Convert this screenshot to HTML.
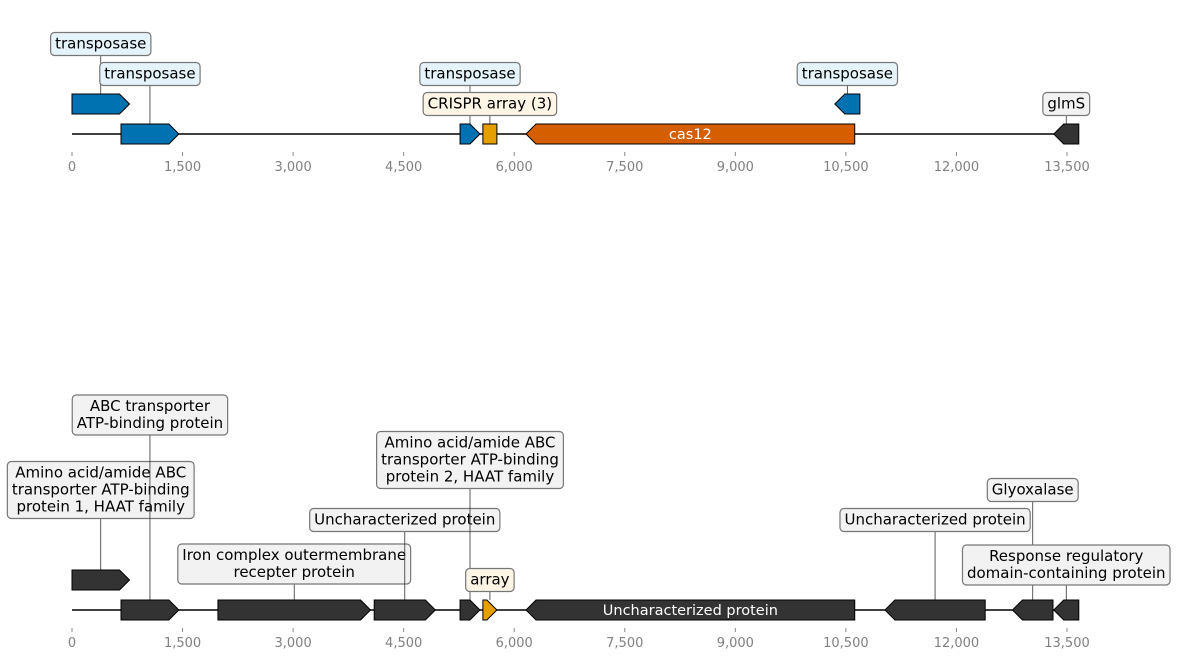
<!DOCTYPE html>
<html><head><meta charset="utf-8"><style>
html,body{margin:0;padding:0;background:#fff;}
svg{display:block;font-family:"DejaVu Sans","Liberation Sans",sans-serif;}
</style></head><body>
<svg id="chart" width="1178" height="659" viewBox="0 0 1178 659"></svg>
<script>
// ---- data ----
const tickValues = [0,1500,3000,4500,6000,7500,9000,10500,12000,13500];
const tickLabels = ["0","1,500","3,000","4,500","6,000","7,500","9,000","10,500","12,000","13,500"];
const seqLength = 13660;

const topStarts  = [0, 665, 5265, 5575, 6160, 10350, 13320];
const topEnds    = [780, 1450, 5535, 5765, 10620, 10690, 13660];
const topStrands = [1, 1, 1, 0, -1, -1, -1];
const topLevels  = [1, 0, 0, 0, 0, 1, 0];
const topColors  = ["#0072b2","#0072b2","#0072b2","#e69f00","#d55e00","#0072b2","#333333"];
const topLabels  = ["transposase","transposase","transposase","CRISPR array (3)","","transposase","glmS"];
const topInside  = ["","","","","cas12","",""];
const topBoxFill = ["#e5f4fb","#e5f4fb","#e5f4fb","#fdf5e5","","#e5f4fb","#f2f2f2"];

const botStarts  = [0, 665, 1980, 4100, 5265, 5575, 6160, 11030, 12760, 13320];
const botEnds    = [780, 1450, 4050, 4930, 5535, 5765, 10620, 12390, 13310, 13660];
const botStrands = [1, 1, 1, 1, 1, 1, -1, -1, -1, -1];
const botLevels  = [1, 0, 0, 0, 0, 0, 0, 0, 0, 0];
const botColors  = ["#333333","#333333","#333333","#333333","#333333","#e69f00","#333333","#333333","#333333","#333333"];
const botLabels  = ["Amino acid/amide ABC\ntransporter ATP-binding\nprotein 1, HAAT family","ABC transporter\nATP-binding protein","Iron complex outermembrane\nrecepter protein","Uncharacterized protein ","Amino acid/amide ABC\ntransporter ATP-binding\nprotein 2, HAAT family","array","","Uncharacterized protein ","Glyoxalase ","Response regulatory\ndomain-containing protein"];
const botInside  = ["","","","","","","Uncharacterized protein","","",""];
const botBoxFill = ["#f2f2f2","#f2f2f2","#f2f2f2","#f2f2f2","#f2f2f2","#fdf5e5","","#f2f2f2","#f2f2f2","#f2f2f2"];

// ---- layout ----
const topLabelY = [44,74,74,104,0,74,104];
const botLabelY = [490,415,564,520,460,580,0,520,490,565];

const NS="http://www.w3.org/2000/svg";
const svg=document.getElementById('chart');
const x0=72, x1=1067;
const xs=v=>x0+(v/13500)*(x1-x0);
function mk(tag,attrs,parent){const e=document.createElementNS(NS,tag);for(const k in attrs)e.setAttribute(k,attrs[k]);(parent||svg).appendChild(e);return e;}

function panel(baseY,starts,ends,strands,levels,colors,labels,inside,fills,labelY,pname){
  const g=mk('g',{});
  
  
  const ax=mk('line',{x1:xs(0),x2:xs(seqLength),y1:baseY,y2:baseY,stroke:'#000','stroke-width':1.5},g);
  
  
  tickValues.forEach((t,i)=>{
    const tk=mk('line',{x1:xs(t),x2:xs(t),y1:baseY+18,y2:baseY+22,stroke:'#888','stroke-width':1},g);
    
    
    const tl=mk('text',{x:xs(t),y:baseY+37,'text-anchor':'middle','font-size':13,fill:'#808080'},g);
    tl.textContent=tickLabels[i];
    
    
  });
  const labelLayer=mk('g',{},g);
  starts.forEach((s,i)=>{
    const a=xs(s), b=xs(ends[i]), cy=baseY-30*levels[i], h=10;
    const hl=Math.min(10,b-a);
    let d;
    if(strands[i]>0) d=`M${a},${cy-h}L${b-hl},${cy-h}L${b},${cy}L${b-hl},${cy+h}L${a},${cy+h}Z`;
    else if(strands[i]<0) d=`M${b},${cy-h}L${a+hl},${cy-h}L${a},${cy}L${a+hl},${cy+h}L${b},${cy+h}Z`;
    else d=`M${a},${cy-h}L${b},${cy-h}L${b},${cy+h}L${a},${cy+h}Z`;
    const p=mk('path',{d:d,fill:colors[i],stroke:'#000','stroke-width':1},g);
    
    
    if(inside[i]){
      const t=mk('text',{x:(a+b)/2,y:cy+5,'text-anchor':'middle','font-size':14.5,fill:'#fff'},g);
      t.textContent=inside[i];
      
      
    }
    if(labels[i]){
      const lines=labels[i].split('\n');
      const lh=17, ly=labelY[i], cx=(a+b)/2;
      const bh=lines.length*lh+6;
      const top=ly-bh/2;
      const ln=mk('line',{x1:cx,x2:cx,y1:cy-h,y2:top+bh,stroke:'#333','stroke-width':0.8},labelLayer);
      
      
      const rect=mk('rect',{y:top,height:bh,rx:4,fill:fills[i],stroke:'#777','stroke-width':1.2},labelLayer);
      
      
      const t=mk('text',{x:cx,'text-anchor':'middle','font-size':15,fill:'#000','xml:space':'preserve'},labelLayer);
      
      
      lines.forEach((L,k)=>{const ts=mk('tspan',{x:cx,y:top+3+lh*(k+1)-4},t);ts.textContent=L;});
      const w=t.getBBox().width+9;
      rect.setAttribute('x',cx-w/2);rect.setAttribute('width',w);
    }
  });
}
panel(134,topStarts,topEnds,topStrands,topLevels,topColors,topLabels,topInside,topBoxFill,topLabelY,'top-panel');
panel(610,botStarts,botEnds,botStrands,botLevels,botColors,botLabels,botInside,botBoxFill,botLabelY,'bottom-panel');
</script>
</body></html>
